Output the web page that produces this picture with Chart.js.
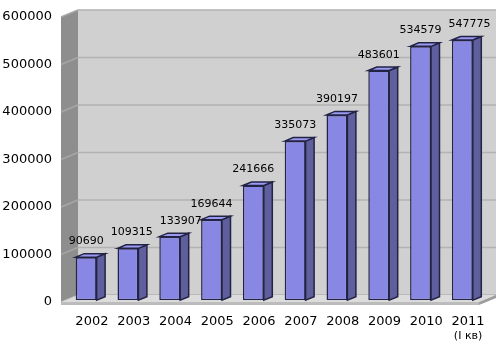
<!DOCTYPE html>
<html>
<head>
<meta charset="utf-8">
<script src="https://cdn.jsdelivr.net/npm/chart.js@4.4.1/dist/chart.umd.min.js"></script>
<style>
  body { margin: 0; background: #fff; }
  #wrap { width: 500px; height: 350px; }
</style>
</head>
<body>
<div id="wrap"><canvas id="bar"></canvas></div>
<script>
const years = ['2002', '2003', '2004', '2005', '2006', '2007', '2008', '2009', '2010', '2011'];
const subLabels = ['', '', '', '', '', '', '', '', '', '(I кв)'];
const values = [90690, 109315, 133907, 169644, 241666, 335073, 390197, 483601, 534579, 547775];
const yTicks = [0, 100000, 200000, 300000, 400000, 500000, 600000];

// depth of the box (walls + floor); bars sit in the middle half of it
const DX = 17, DY = -7;

const box3d = {
  id: 'box3d',
  beforeDatasetsDraw(chart) {
    const ctx = chart.ctx;
    const a = chart.chartArea;
    const y = chart.scales.y;
    ctx.save();
    // back wall
    ctx.fillStyle = '#d0d0d0';
    ctx.fillRect(a.left + DX, a.top + DY, a.right - a.left, a.bottom - a.top);
    // left wall
    ctx.fillStyle = '#8e8e8e';
    ctx.beginPath();
    ctx.moveTo(a.left, a.top);
    ctx.lineTo(a.left + DX, a.top + DY);
    ctx.lineTo(a.left + DX, a.bottom + DY);
    ctx.lineTo(a.left, a.bottom);
    ctx.closePath();
    ctx.fill();
    // grid lines on both walls
    ctx.lineWidth = 1.5;
    yTicks.forEach(v => {
      const py = y.getPixelForValue(v);
      ctx.strokeStyle = '#b2b2b2';
      ctx.beginPath();
      ctx.moveTo(a.left + DX, py + DY);
      ctx.lineTo(a.right + DX, py + DY);
      ctx.stroke();
      ctx.strokeStyle = '#a6a6a6';
      ctx.beginPath();
      ctx.moveTo(a.left, py);
      ctx.lineTo(a.left + DX, py + DY);
      ctx.stroke();
    });
    // floor
    ctx.fillStyle = '#dcdcdc';
    ctx.beginPath();
    ctx.moveTo(a.left, a.bottom);
    ctx.lineTo(a.left + DX, a.bottom + DY);
    ctx.lineTo(a.right + DX, a.bottom + DY);
    ctx.lineTo(a.right, a.bottom);
    ctx.closePath();
    ctx.fill();
    ctx.fillStyle = '#bcbcbc';
    ctx.fillRect(a.left, a.bottom, a.right - a.left, 3);
    ctx.fillStyle = '#9c9c9c';
    ctx.beginPath();
    ctx.moveTo(a.right, a.bottom);
    ctx.lineTo(a.right + DX, a.bottom + DY);
    ctx.lineTo(a.right + DX, a.bottom + DY + 3);
    ctx.lineTo(a.right, a.bottom + 3);
    ctx.closePath();
    ctx.fill();

    // side and top faces of the bars, front faces are drawn by the library
    ctx.translate(DX / 4, DY / 4);
    const bdx = DX / 2, bdy = DY / 2;
    ctx.lineWidth = 1.5;
    ctx.strokeStyle = '#232345';
    chart.getDatasetMeta(0).data.forEach(bar => {
      const p = bar.getProps(['x', 'y', 'base', 'width'], true);
      const l = p.x - p.width / 2, r = p.x + p.width / 2;
      ctx.fillStyle = '#5f5f9e';
      ctx.beginPath();
      ctx.moveTo(r, p.y);
      ctx.lineTo(r + bdx, p.y + bdy);
      ctx.lineTo(r + bdx, p.base + bdy);
      ctx.lineTo(r, p.base);
      ctx.closePath();
      ctx.fill();
      ctx.stroke();
      ctx.fillStyle = '#9a9af0';
      ctx.beginPath();
      ctx.moveTo(l, p.y);
      ctx.lineTo(l + bdx, p.y + bdy);
      ctx.lineTo(r + bdx, p.y + bdy);
      ctx.lineTo(r, p.y);
      ctx.closePath();
      ctx.fill();
      ctx.stroke();
    });
  },
  afterDatasetsDraw(chart) {
    const ctx = chart.ctx;
    // value labels, nudged right when they would collide with the previous one
    ctx.font = '11px "DejaVu Sans"';
    ctx.fillStyle = '#000';
    ctx.textAlign = 'center';
    ctx.textBaseline = 'alphabetic';
    let prev = null;
    chart.getDatasetMeta(0).data.forEach((bar, i) => {
      const txt = String(values[i]);
      const w = ctx.measureText(txt).width;
      let cx = bar.x;
      const ty = bar.y - 13;
      if (prev && Math.abs(ty - prev.y) < 12 && cx - w / 2 < prev.right + 7) {
        cx = prev.right + 7 + w / 2;
      }
      prev = { right: cx + w / 2, y: ty };
      ctx.fillText(txt, cx, ty);
    });
    ctx.restore();

    // second line under the last category
    const a = chart.chartArea;
    const x = chart.scales.x;
    ctx.save();
    ctx.font = '11px "DejaVu Sans"';
    ctx.fillStyle = '#000';
    ctx.textAlign = 'center';
    ctx.textBaseline = 'middle';
    subLabels.forEach((s, i) => {
      if (s) ctx.fillText(s, x.getPixelForValue(i) + 10, a.bottom + 34);
    });
    ctx.restore();
  }
};

const data = {
  labels: years,
  datasets: [{
    data: values,
    backgroundColor: '#8888e4',
    borderColor: '#232345',
    borderWidth: 1.5,
    borderSkipped: false,
    barPercentage: 0.5,
    categoryPercentage: 1.0
  }]
};

const chart = new Chart(document.getElementById('bar'), {
  type: 'bar',
  data: data,
  options: {
    responsive: true,
    maintainAspectRatio: false,
    animation: false,
    layout: { padding: { left: 0, right: 21, top: 17, bottom: 0 } },
    plugins: {
      legend: { display: false },
      tooltip: { enabled: false }
    },
    scales: {
      x: {
        grid: { display: false, drawTicks: false },
        border: { display: false },
        ticks: {
          color: '#000',
          font: { family: 'DejaVu Sans', size: 13 },
          padding: 12,
          labelOffset: 10,
          maxRotation: 0
        },
        afterFit(scale) { scale.height = 48; }
      },
      y: {
        min: 0,
        max: 600000,
        grid: { display: false, drawTicks: false },
        border: { display: false },
        ticks: {
          stepSize: 100000,
          color: '#000',
          font: { family: 'DejaVu Sans', size: 13 },
          padding: 9,
          callback: v => String(v)
        },
        afterFit(scale) { scale.width = 61; }
      }
    }
  },
  plugins: [box3d]
});
</script>
</body>
</html>
